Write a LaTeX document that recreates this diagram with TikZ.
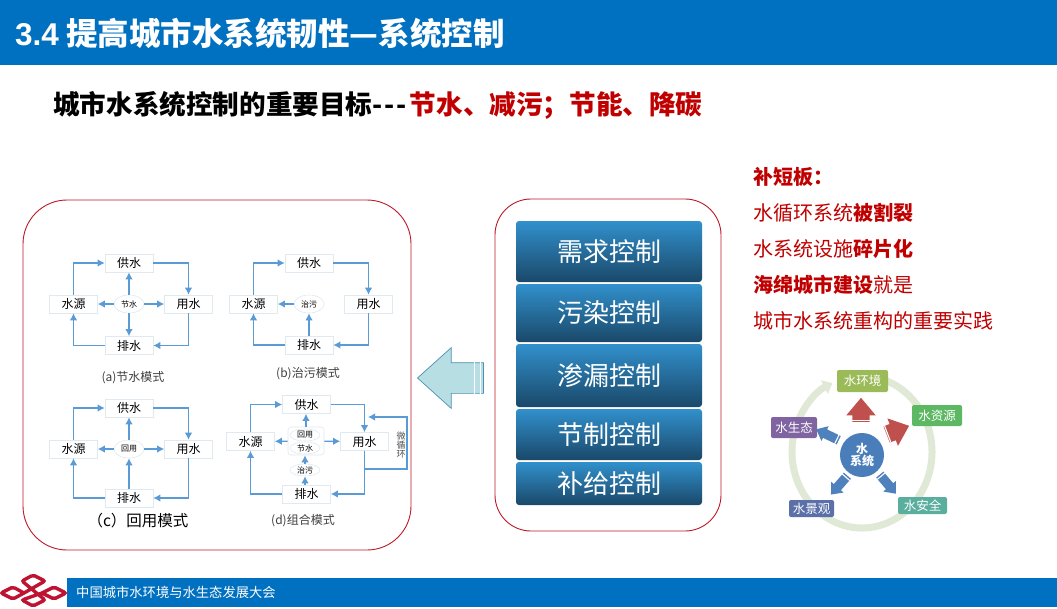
\documentclass[tikz,border=0pt]{standalone}
\usepackage{fontspec}
\setmainfont{Noto Sans CJK SC}
\newfontfamily\latinfont{Liberation Sans}
\usepackage{xcolor}
\usetikzlibrary{arrows.meta, positioning, shapes.geometric, shapes.arrows, calc}
\definecolor{barblue}{RGB}{0, 112, 192}
\definecolor{inkred}{RGB}{192, 0, 0}
\definecolor{framered}{RGB}{190, 25, 40}
\definecolor{flow}{RGB}{91, 155, 213}
\definecolor{boxedge}{RGB}{224, 232, 240}
\definecolor{ctltop}{RGB}{49, 144, 204}
\definecolor{ctlmid}{RGB}{40, 112, 165}
\definecolor{ctlbot}{RGB}{26, 72, 105}
\definecolor{ringgreen}{RGB}{224, 232, 214}
\definecolor{arrred}{RGB}{192, 80, 77}
\definecolor{arrblue}{RGB}{79, 129, 189}
\definecolor{backfill}{RGB}{183, 222, 226}
\definecolor{backedge}{RGB}{75, 145, 180}
\definecolor{logored}{RGB}{190, 20, 50}
\newcommand{\pxfont}[1]{\fontsize{#1}{#1}\selectfont}
\newcommand{\tailstripe}[2]{\draw[stripe] ($(#1.after tail)!#2!(#1.before head)$) -- ($(#1.before tail)!#2!(#1.after head)$);}
\tikzset{
    bar/.style    ={fill=barblue, draw=none, inner sep=0},
    frm/.style    ={draw=framered, line width=0.9pt, fill=white, inner sep=0},
    ctl/.style    ={rounded corners=3pt, inner sep=0, minimum width=186pt,
                    top color=ctltop, middle color=ctlmid, bottom color=ctlbot,
                    text=white, font=\pxfont{26}},
    wbox/.style   ={draw=boxedge, line width=0.6pt, fill=white, inner sep=0,
                    minimum width=48pt, minimum height=18pt, font=\pxfont{12}},
    oval/.style   ={ellipse, draw=boxedge, line width=0.6pt, fill=white, inner sep=0,
                    minimum width=30pt, minimum height=18pt, font=\pxfont{8}},
    thinoval/.style={oval, minimum height=12pt},
    ar/.style     ={-{Latex[length=7pt,width=7.5pt]}, line width=1.3pt, draw=flow},
    caplbl/.style ={inner sep=0, font=\pxfont{12}, text=black!75},
    rtxt/.style   ={inner sep=0, anchor=west, text=inkred, font=\pxfont{20}},
    tag/.style    ={rounded corners=2pt, inner sep=0, text=white, font=\pxfont{12.5}},
    blockar/.style={single arrow, draw=none, inner xsep=0},
    redar/.style  ={blockar, fill=arrred, minimum height=24pt, inner ysep=8.5pt,
                    single arrow head extend=6pt, single arrow tip angle=80},
    bluar/.style  ={blockar, fill=arrblue, minimum height=25pt, inner ysep=4.5pt,
                    single arrow head extend=3.5pt, single arrow tip angle=80},
    stripe/.style ={draw=white, line width=1.1pt}
}

\begin{document}
\begin{tikzpicture}[x=1pt, y=-1pt]
  \useasboundingbox (0,0) rectangle (1057,608);

  % header and footer
  \node[bar, minimum width=1057pt, minimum height=65pt] (head) at (528.5,32.5) {};
  \node[bar, minimum width=990pt, minimum height=29pt] (foot) at (562,592.5) {};
  \node[inner sep=0, anchor=west, text=white, font=\pxfont{31.5}\bfseries] (title) at (15,33)
       {{\latinfont 3.4} 提高城市水系统韧性—系统控制};
  \node[inner sep=0, anchor=west, text=white, font=\pxfont{13.3}] (foottxt) at (76,592.5)
       {中国城市水环境与水生态发展大会};
  \node[inner sep=0, anchor=west, font=\pxfont{26.6}\bfseries] (goal) at (53,105)
       {城市水系统控制的重要目标-\kern2pt-\kern2pt-\kern3pt\textcolor{inkred}{节水、减污；节能、降碳}};

  % logo
  \draw[logored, line width=3.4pt, rounded corners=2pt]
       (24,593) -- (13,587) -- (1,593) -- (13,599) -- (24,593)
       (42,593) -- (54,587) -- (66,593) -- (54,599) -- (42,593)
       (24,593) -- (45,581) -- (33,575) -- (22,581) -- (45,600) -- (33,606) -- (22,600) -- (42,593);

  % frames
  \node[frm, rounded corners=44pt, minimum width=388pt, minimum height=350pt] (left) at (217,375) {};
  \node[frm, rounded corners=36pt, minimum width=226pt, minimum height=332pt] (mid) at (608,365) {};

  % control blocks
  \node[ctl, minimum height=61pt] (need)  at (609,251.5) {需求控制};
  \node[ctl, minimum height=58pt] (pollu) at (609,313)   {污染控制};
  \node[ctl, minimum height=63pt] (leak)  at (609,375.5) {渗漏控制};
  \node[ctl, minimum height=51pt] (save)  at (609,434.5) {节制控制};
  \node[ctl, minimum height=43pt] (feed)  at (609,483.5) {补给控制};

  % arrow back to the modes
  \node[single arrow, draw=backedge, fill=backfill, line width=0.7pt, inner xsep=0, inner ysep=15pt,
        minimum height=66pt, shape border rotate=180,
        single arrow head extend=15pt, single arrow tip angle=84] (back) at (459,378) {};
  \tailstripe{back}{0.1}
  \tailstripe{back}{0.3}

  % (a)
  \node[wbox] (supA)  at (129,263) {供水};
  \node[wbox] (srcA)  at (73.5,304) {水源};
  \node[wbox] (useA)  at (188.5,304) {用水};
  \node[wbox] (drnA)  at (129,345.5) {排水};
  \node[oval] (midA)  at (129,304) {节水};
  \node[caplbl]  (capA)  at (133,378) {(a)节水模式};
  \draw[ar] (srcA.north) |- (supA.west);
  \draw[ar] (supA.east) -| (useA.north);
  \draw[ar] (useA.south) |- (drnA.east);
  \draw[ar] (drnA.west) -| (srcA.south);
  \draw[ar] (midA) -- (supA);
  \draw[ar] (midA) -- (srcA);
  \draw[ar] (midA) -- (useA);
  \draw[ar] (midA) -- (drnA);

  % (b)
  \node[wbox] (supB)  at (309,263) {供水};
  \node[wbox] (srcB)  at (253.5,304) {水源};
  \node[wbox] (useB)  at (368.5,304) {用水};
  \node[wbox] (drnB)  at (309,345) {排水};
  \node[oval] (midB)  at (309,304) {治污};
  \node[caplbl]  (capB)  at (308,374) {(b)治污模式};
  \draw[ar] (srcB.north) |- (supB.west);
  \draw[ar] (supB.east) -| (useB.north);
  \draw[ar] (useB.south) |- (drnB.east);
  \draw[ar] (drnB.west) -| (srcB.south);
  \draw[ar] (midB) -- (srcB);
  \draw[ar] (drnB) -- (midB);

  % (c)
  \node[wbox] (supC)  at (129,408) {供水};
  \node[wbox] (srcC)  at (73.5,449) {水源};
  \node[wbox] (useC)  at (188.5,449) {用水};
  \node[wbox] (drnC)  at (129,498) {排水};
  \node[oval] (midC)  at (129,449) {回用};
  \node[caplbl, font=\pxfont{15.5}, text=black] (capC) at (138,521) {（c）回用模式};
  \draw[ar] (srcC.north) |- (supC.west);
  \draw[ar] (supC.east) -| (useC.north);
  \draw[ar] (useC.south) |- (drnC.east);
  \draw[ar] (drnC.west) -| (srcC.south);
  \draw[ar] (midC) -- (supC);
  \draw[ar] (midC) -- (srcC);
  \draw[ar] (midC) -- (useC);
  \draw[ar] (drnC) -- (midC);

  % (d)
  \node[wbox] (supD)  at (306.5,404.5) {供水};
  \node[wbox] (srcD)  at (250.5,441.5) {水源};
  \node[wbox] (useD)  at (364.5,441.5) {用水};
  \node[wbox] (drnD)  at (306.5,494) {排水};
  \node[draw=boxedge, line width=0.6pt, rounded corners=3pt, fill=white, inner sep=0,
        minimum width=36pt, minimum height=28pt] (grpD) at (306,441) {};
  \node[thinoval] (reuD) at (305,435) {回用};
  \node[thinoval] (savD) at (305,448) {节水};
  \node[thinoval] (treD) at (305,470) {治污};
  \node[caplbl]  (capD)  at (303,521) {(d)组合模式};
  \draw[ar] (srcD.north) |- (supD.west);
  \draw[ar] (supD.east) -| (useD.north);
  \draw[ar] (useD.south) |- (drnD.east);
  \draw[ar] (drnD.west) -| (srcD.south);
  \draw[ar] (grpD.north) -- (grpD.north |- supD.south);
  \draw[ar] (grpD) -- (srcD);
  \draw[ar] (grpD) -- (useD);
  \draw[ar] (treD) -- (treD |- grpD.south);
  \draw[ar] (drnD.north -| treD) -- (treD);
  % micro loop
  \coordinate (loopA) at (useD.south |- 0,469);
  \coordinate (loopB) at (368,417);
  \draw[ar] (loopA) -- (407,469) -- (407,417) -- (loopB);
  \node[inner sep=0, align=center, font=\pxfont{9}, text=black!70] (loopT) at (401,445) {微\\循\\环};

  % right column
  \node[rtxt, font=\pxfont{20}\bfseries] (ra) at (753,177) {补短板：};
  \node[rtxt] (rb) at (753,213) {水循环系统\textbf{被割裂}};
  \node[rtxt] (rc) at (753,249) {水系统设施\textbf{碎片化}};
  \node[rtxt] (rd) at (753,285) {\textbf{海绵城市建设}就是};
  \node[rtxt] (re) at (753,321) {城市水系统重构的重要实践};

  % ring
  \draw[ringgreen, line width=7pt, -{Triangle[length=9pt,width=15pt]}]
       (862,452) ++(-70:70 and 76) arc[start angle=-70, end angle=245, x radius=70, y radius=76];
  \node[tag, fill={rgb,255:red,155;green,187;blue,89}, minimum width=51pt, minimum height=22pt] (envr) at (862.5,381) {水环境};
  \node[tag, fill={rgb,255:red,92;green,184;blue,98}, minimum width=50pt, minimum height=21pt] (resr) at (937,415.5) {水资源};
  \node[tag, fill={rgb,255:red,90;green,174;blue,158}, minimum width=49pt, minimum height=17pt] (safe) at (922.5,505.5) {水安全};
  \node[tag, fill={rgb,255:red,91;green,111;blue,168}, minimum width=45pt, minimum height=17pt] (view) at (811.5,508.5) {水景观};
  \node[tag, fill={rgb,255:red,128;green,100;blue,162}, minimum width=46pt, minimum height=21pt] (ecol) at (794,427.5) {水生态};
  \node[circle, fill={rgb,255:red,74;green,126;blue,187}, minimum size=44pt, inner sep=0, align=center,
        text=white, font=\pxfont{12}\bfseries] (core) at (862,455) {水\\系统};
  \node[redar, rotate=90] (arUp)   at (861,415) {};
  \node[redar, rotate=21] (arRt)   at (893,432) {};
  \node[bluar, rotate=154] (arEco) at (830,436) {};
  \node[bluar, rotate=229] (arVw)  at (841,483) {};
  \node[bluar, rotate=-50] (arSf)  at (886,482) {};
  \tailstripe{arUp}{0.2}
  \tailstripe{arRt}{0.2}
  \tailstripe{arEco}{0.15}
  \tailstripe{arVw}{0.15}
  \tailstripe{arSf}{0.15}
\end{tikzpicture}
\end{document}
